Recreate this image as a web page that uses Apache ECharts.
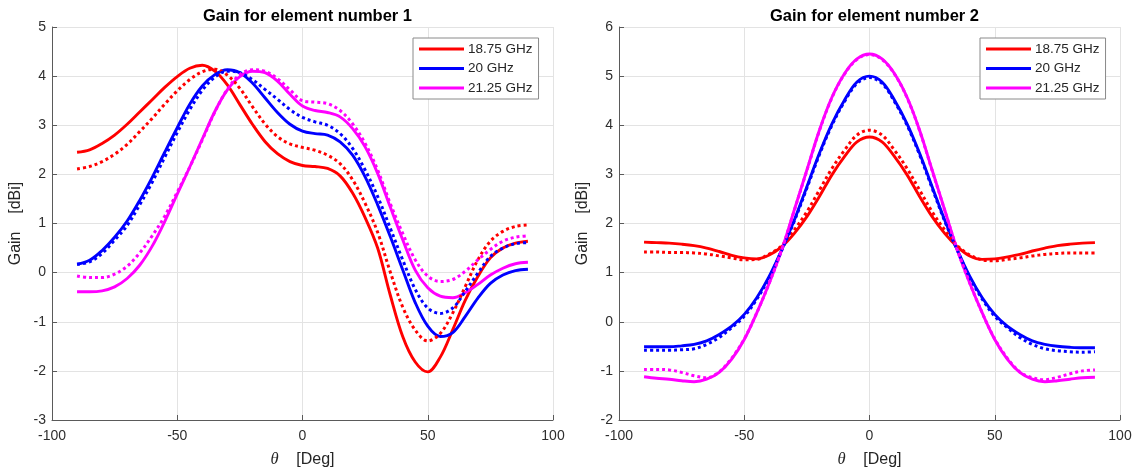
<!DOCTYPE html>
<html>
<head>
<meta charset="utf-8">
<script src="https://cdn.jsdelivr.net/npm/echarts@6/dist/echarts.min.js"></script>
<style>
html,body{margin:0;padding:0;background:#fff;}
#c{width:1137px;height:469px;}
</style>
</head>
<body>
<div id="c"></div>
<script>
// theta [deg]
const theta = [-90,-85,-80,-75,-70,-65,-60,-55,-50,-45,-40,-35,-30,-25,-20,-15,-10,-5,0,5,10,15,20,25,30,35,40,45,50,55,60,65,70,75,80,85,90];

const legendNames = ['18.75 GHz','20 GHz','21.25 GHz'];
const titles = ['Gain for element number 1','Gain for element number 2'];
const xTicks = {min:-100, max:100, interval:50};
const yTicks1 = {min:-3, max:5, interval:1};
const yTicks2 = {min:-2, max:6, interval:1};

// Element 1 (solid)
const e1_1875 = [2.45,2.5,2.63,2.8,3.02,3.27,3.52,3.77,3.99,4.16,4.22,4.1,3.82,3.42,3.02,2.67,2.42,2.26,2.18,2.16,2.12,1.97,1.62,1.12,0.5,-0.45,-1.3,-1.82,-2.02,-1.72,-1.16,-0.56,-0.08,0.3,0.5,0.6,0.64];
const e1_20 = [0.17,0.25,0.45,0.72,1.05,1.47,1.94,2.45,2.95,3.43,3.8,4.03,4.13,4.07,3.86,3.56,3.26,3.02,2.88,2.83,2.8,2.66,2.39,1.95,1.38,0.74,0.06,-0.61,-1.09,-1.3,-1.22,-0.89,-0.52,-0.22,-0.05,0.04,0.07];
const e1_2125 = [-0.39,-0.39,-0.37,-0.29,-0.12,0.15,0.54,1.04,1.6,2.15,2.72,3.28,3.72,3.99,4.1,4.07,3.9,3.63,3.39,3.3,3.26,3.17,2.93,2.56,2.02,1.34,0.67,0.05,-0.31,-0.48,-0.51,-0.41,-0.24,-0.05,0.09,0.18,0.21];
// Element 1 (dotted)
const e1_1875d = [2.11,2.16,2.26,2.41,2.61,2.87,3.14,3.43,3.7,3.93,4.09,4.14,4.02,3.75,3.38,3.03,2.77,2.62,2.55,2.49,2.39,2.22,1.89,1.41,0.82,0.02,-0.7,-1.17,-1.39,-1.24,-0.82,-0.28,0.26,0.64,0.84,0.94,0.97];
const e1_20d = [0.17,0.22,0.39,0.66,0.96,1.38,1.84,2.35,2.85,3.32,3.71,3.98,4.1,4.07,3.93,3.73,3.53,3.32,3.16,3.07,3.0,2.83,2.53,2.09,1.55,0.91,0.26,-0.34,-0.72,-0.83,-0.72,-0.38,-0.01,0.33,0.5,0.59,0.61];
const e1_2125d = [-0.07,-0.1,-0.1,-0.03,0.13,0.4,0.75,1.15,1.64,2.15,2.7,3.27,3.73,4.03,4.13,4.1,3.95,3.72,3.5,3.47,3.44,3.3,3.03,2.63,2.09,1.41,0.8,0.26,-0.07,-0.18,-0.14,0.03,0.26,0.47,0.64,0.72,0.75];

// Element 2 (solid)
const e2_1875 = [1.62,1.61,1.6,1.58,1.55,1.5,1.43,1.35,1.3,1.28,1.36,1.53,1.8,2.14,2.55,2.99,3.36,3.66,3.76,3.66,3.36,2.99,2.55,2.14,1.8,1.53,1.34,1.27,1.28,1.32,1.37,1.44,1.5,1.55,1.58,1.6,1.61];
const e2_20 = [-0.51,-0.51,-0.51,-0.49,-0.46,-0.39,-0.26,-0.09,0.15,0.49,0.93,1.47,2.07,2.75,3.43,4.03,4.51,4.88,5.0,4.88,4.51,4.03,3.43,2.75,2.07,1.47,0.93,0.49,0.15,-0.09,-0.26,-0.39,-0.46,-0.5,-0.52,-0.53,-0.53];
const e2_2125 = [-1.12,-1.15,-1.17,-1.2,-1.22,-1.17,-1.03,-0.76,-0.36,0.18,0.79,1.47,2.28,3.09,3.9,4.57,5.05,5.35,5.45,5.35,5.05,4.57,3.9,3.09,2.28,1.47,0.79,0.18,-0.36,-0.76,-1.03,-1.17,-1.22,-1.2,-1.17,-1.14,-1.13];
// Element 2 (dotted)
const e2_1875d = [1.42,1.42,1.41,1.41,1.4,1.38,1.34,1.3,1.26,1.27,1.38,1.55,1.87,2.24,2.68,3.12,3.49,3.8,3.9,3.8,3.49,3.12,2.68,2.24,1.87,1.55,1.36,1.26,1.24,1.27,1.3,1.34,1.37,1.39,1.4,1.4,1.4];
const e2_20d = [-0.58,-0.58,-0.58,-0.57,-0.55,-0.46,-0.32,-0.12,0.11,0.46,0.9,1.46,2.05,2.72,3.4,4.0,4.48,4.85,4.97,4.85,4.48,4.0,3.4,2.72,2.05,1.46,0.9,0.46,0.11,-0.12,-0.32,-0.46,-0.55,-0.59,-0.61,-0.62,-0.61];
const e2_2125d = [-0.97,-0.97,-0.98,-1.03,-1.1,-1.14,-1.02,-0.74,-0.35,0.18,0.79,1.47,2.27,3.08,3.89,4.56,5.04,5.34,5.44,5.34,5.04,4.56,3.89,3.08,2.27,1.47,0.79,0.18,-0.35,-0.74,-1.02,-1.14,-1.18,-1.13,-1.06,-1.0,-0.98];

const colors = ['#ff0000','#0000ff','#ff00ff'];
const FONT = 'Liberation Sans, Arial, sans-serif';

function pairs(ys){ return theta.map((t,i)=>[t, ys[i]]); }

const plots = [
  {solid:[e1_1875,e1_20,e1_2125], dotted:[e1_1875d,e1_20d,e1_2125d]},
  {solid:[e2_1875,e2_20,e2_2125], dotted:[e2_1875d,e2_20d,e2_2125d]}
];

const series = [];
plots.forEach((p, g) => {
  p.solid.forEach((ys, k) => {
    series.push({
      name: legendNames[k], type:'line', xAxisIndex:g, yAxisIndex:g,
      data: pairs(ys), showSymbol:false, smooth:0.35,
      lineStyle:{color:colors[k], width:2.9}, itemStyle:{color:colors[k]}, z:2
    });
  });
  p.dotted.forEach((ys, k) => {
    series.push({
      name: legendNames[k] + ' (dotted)', type:'line', xAxisIndex:g, yAxisIndex:g,
      data: pairs(ys), showSymbol:false, smooth:0.35,
      lineStyle:{color:colors[k], width:3, type:[3,3], cap:'butt'}, itemStyle:{color:colors[k]}, z:3
    });
  });
});

const gridLeft = [52, 619];
const gridW = 501;

function xAxis(g){
  return {
    type:'value', gridIndex:g, min:xTicks.min, max:xTicks.max, interval:xTicks.interval,
    name:'{th|θ}    [Deg]', nameLocation:'middle', nameGap:31,
    nameTextStyle:{fontFamily:FONT, fontSize:16, color:'#262626', rich:{th:{fontFamily:'Liberation Serif, DejaVu Serif, serif', fontStyle:'italic', fontSize:16.5, color:'#262626'}}},
    axisLine:{show:true, onZero:false, lineStyle:{color:'#5a5a5a', width:1}},
    axisTick:{show:true, inside:true, length:5, lineStyle:{color:'#5a5a5a'}},
    axisLabel:{fontFamily:FONT, fontSize:14, color:'#2e2e2e', margin:9},
    splitLine:{show:true, lineStyle:{color:'#e3e3e3', width:1}}
  };
}
function yAxis(g, t){
  return {
    type:'value', gridIndex:g, min:t.min, max:t.max, interval:t.interval,
    name:'Gain    [dBi]', nameLocation:'middle', nameGap:28, nameRotate:90,
    nameTextStyle:{fontFamily:FONT, fontSize:16, color:'#262626'},
    axisLine:{show:true, onZero:false, lineStyle:{color:'#5a5a5a', width:1}},
    axisTick:{show:true, inside:true, length:5, lineStyle:{color:'#5a5a5a'}},
    axisLabel:{fontFamily:FONT, fontSize:14, color:'#2e2e2e', margin:6},
    splitLine:{show:true, lineStyle:{color:'#e3e3e3', width:1}}
  };
}
function legend(left){
  return {
    data: legendNames, left:left, top:38, orient:'vertical',
    icon:'rect', itemWidth:45, itemHeight:3, itemGap:5.5,
    padding:[4,6,4,6], borderColor:'#8a8a8a', borderWidth:1, backgroundColor:'#fff',
    textStyle:{fontFamily:FONT, fontSize:13.5, color:'#262626', padding:[0,0,0,-1]},
    selectedMode:false
  };
}

const option = {
  animation:false,
  backgroundColor:'#fff',
  title: titles.map((t,g)=>({
    text:t, left: gridLeft[g] + gridW/2, top:3, textAlign:'center',
    textStyle:{fontFamily:FONT, fontSize:16.5, fontWeight:'bold', color:'#000'}
  })),
  grid: gridLeft.map(l=>({left:l, top:27, width:gridW, height:393, containLabel:false, outerBoundsMode:'none'})),
  xAxis:[xAxis(0), xAxis(1)],
  yAxis:[yAxis(0, yTicks1), yAxis(1, yTicks2)],
  legend:[legend(413), legend(980)],
  series: series
};

const chart = echarts.init(document.getElementById('c'), null, {renderer:'canvas'});
chart.setOption(option);
</script>
</body>
</html>
